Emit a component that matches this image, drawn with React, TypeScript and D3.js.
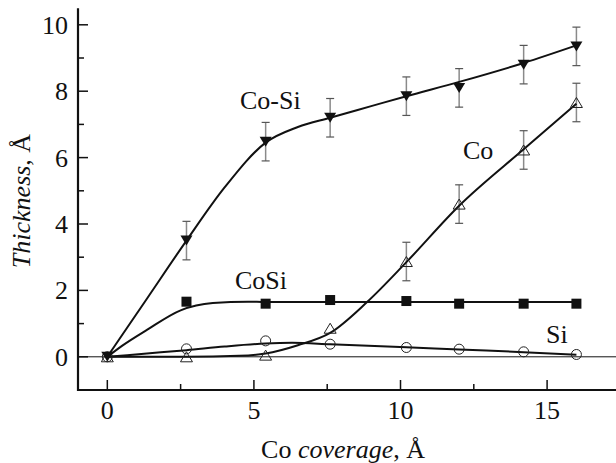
import * as d3 from 'd3';

// measured points (Co coverage, Å -> thickness, Å)
const coverage = [0, 2.7, 5.4, 7.6, 10.2, 12, 14.2, 16];
const coSiVals = [0, 3.5, 6.48, 7.2, 7.85, 8.1, 8.8, 9.35];
const coVals = [0, 0, 0.05, 0.86, 2.87, 4.6, 6.23, 7.66];
const cosiVals = [null, 1.66, 1.6, 1.71, 1.68, 1.6, 1.6, 1.6];
const siVals = [0, 0.24, 0.48, 0.38, 0.28, 0.23, 0.15, 0.07];
const errHalf = 0.58;
const coSiErr = [false, true, true, true, true, true, true, true];
const coErr = [false, false, false, false, true, true, true, true];

// fitted curves
const coSiFit: [number, number][] = [[0, 0], [1.35, 1.75], [2.7, 3.5], [4, 5.1], [5.4, 6.45], [6.5, 6.92], [7.6, 7.2], [9, 7.55], [10.2, 7.85], [12, 8.28], [14.2, 8.85], [16, 9.38]];
const coFit: [number, number][] = [[0, 0], [2.7, 0], [4.5, 0.03], [5.4, 0.1], [6.5, 0.35], [7.6, 0.72], [8.86, 1.65], [10.2, 2.85], [12, 4.55], [14.2, 6.25], [16, 7.62]];
const cosiFit: [number, number][] = [[0, 0], [0.5, 0.33], [1.35, 0.81], [2.5, 1.4], [3.6, 1.62], [4.8, 1.66], [5.4, 1.65], [16.15, 1.65]];
const siFit: [number, number][] = [[0, 0], [1.35, 0.1], [2.7, 0.2], [4, 0.31], [5.4, 0.4], [6.3, 0.42], [7.6, 0.38], [10.2, 0.29], [12, 0.22], [14.2, 0.14], [16, 0.06]];

const xMajor = [0, 5, 10, 15];
const xMinor = [2.5, 7.5, 12.5];
const yMajor = [0, 2, 4, 6, 8, 10];
const yMinor = [1, 3, 5, 7, 9];

const W = 616;
const H = 463;
const txt = { fontFamily: 'Liberation Serif', fontSize: 26, fill: '#111' };

export default function App() {
  const x = d3.scaleLinear().domain([-1, 17.35]).range([78, 616]);
  const y = d3.scaleLinear().domain([-1, 10.5]).range([390, 8.2]);

  const line = d3.line<[number, number]>()
    .x((d) => x(d[0]))
    .y((d) => y(d[1]))
    .curve(d3.curveMonotoneX);

  const x0 = x(-1);
  const y0 = y(-1);

  const downTri = (cx: number, cy: number) => `M${cx - 6},${cy - 5}L${cx + 6},${cy - 5}L${cx},${cy + 5}Z`;
  const upTri = (cx: number, cy: number) => `M${cx - 6},${cy + 5}L${cx + 6},${cy + 5}L${cx},${cy - 5}Z`;

  const errBar = (xv: number, yv: number, key: string) => {
    const cx = x(xv);
    const top = y(yv + errHalf);
    const bot = y(yv - errHalf);
    return (
      <g key={key}>
        <line x1={cx} x2={cx} y1={top} y2={bot} stroke="#8a8a8a" strokeWidth={1.5} />
        <line x1={cx - 4} x2={cx + 4} y1={top} y2={top} stroke="#555" strokeWidth={1.2} />
        <line x1={cx - 4} x2={cx + 4} y1={bot} y2={bot} stroke="#555" strokeWidth={1.2} />
      </g>
    );
  };

  return (
    <div style={{ position: 'absolute', left: 0, top: 0 }}>
      <svg width={W} height={H} style={{ display: 'block', background: '#fff' }}>
        {/* zero line */}
        <line x1={x0} x2={W} y1={y(0)} y2={y(0)} stroke="#111" strokeWidth={1} />

        {/* error bars */}
        {coverage.map((c, i) => (coSiErr[i] ? errBar(c, coSiVals[i], `e1-${i}`) : null))}
        {coverage.map((c, i) => (coErr[i] ? errBar(c, coVals[i], `e2-${i}`) : null))}

        {/* fitted curves */}
        {[coSiFit, coFit, cosiFit, siFit].map((f, i) => (
          <path key={`f${i}`} d={line(f) ?? ''} fill="none" stroke="#111" strokeWidth={2} strokeLinejoin="round" />
        ))}

        {/* markers */}
        {coverage.map((c, i) => (
          <circle key={`si${i}`} cx={x(c)} cy={y(siVals[i])} r={5} fill="none" stroke="#222" strokeWidth={1} />
        ))}
        {coverage.map((c, i) => (
          <path key={`co${i}`} d={upTri(x(c), y(coVals[i]))} fill="none" stroke="#222" strokeWidth={1} />
        ))}
        {coverage.map((c, i) =>
          cosiVals[i] === null ? null : (
            <rect key={`cs${i}`} x={x(c) - 5} y={y(cosiVals[i] as number) - 5} width={10} height={10} fill="#111" />
          )
        )}
        {coverage.map((c, i) => (
          <path key={`cosi${i}`} d={downTri(x(c), y(coSiVals[i]))} fill="#111" />
        ))}

        {/* axes */}
        <line x1={x0} x2={W} y1={y0} y2={y0} stroke="#111" strokeWidth={2.2} />
        <line x1={x0} x2={x0} y1={y0 + 1} y2={y(10.5)} stroke="#111" strokeWidth={2.2} />
        {xMajor.map((t) => (
          <g key={`xt${t}`}>
            <line x1={x(t)} x2={x(t)} y1={y0} y2={y0 - 10} stroke="#111" strokeWidth={1.5} />
            <text x={x(t)} y={419} textAnchor="middle" style={txt}>{t}</text>
          </g>
        ))}
        {xMinor.map((t) => (
          <line key={`xm${t}`} x1={x(t)} x2={x(t)} y1={y0} y2={y0 - 6} stroke="#111" strokeWidth={1.5} />
        ))}
        {yMajor.map((t) => (
          <g key={`yt${t}`}>
            <line x1={x0} x2={x0 + 10} y1={y(t)} y2={y(t)} stroke="#111" strokeWidth={1.5} />
            <text x={68} y={y(t) + 9} textAnchor="end" style={txt}>{t}</text>
          </g>
        ))}
        {yMinor.map((t) => (
          <line key={`ym${t}`} x1={x0} x2={x0 + 6} y1={y(t)} y2={y(t)} stroke="#111" strokeWidth={1.5} />
        ))}

        {/* axis titles */}
        <text x={343} y={458} textAnchor="middle" style={txt}>
          Co <tspan fontStyle="italic">coverage</tspan>, Å
        </text>
        <text transform="translate(30,201) rotate(-90)" textAnchor="middle" style={txt}>
          <tspan fontStyle="italic">Thickness</tspan>, Å
        </text>

        {/* series labels */}
        <text x={240} y={109} style={txt}>Co-Si</text>
        <text x={463} y={159} style={txt}>Co</text>
        <text x={235} y={289} style={txt}>CoSi</text>
        <text x={546} y={343} style={txt}>Si</text>
      </svg>
    </div>
  );
}
